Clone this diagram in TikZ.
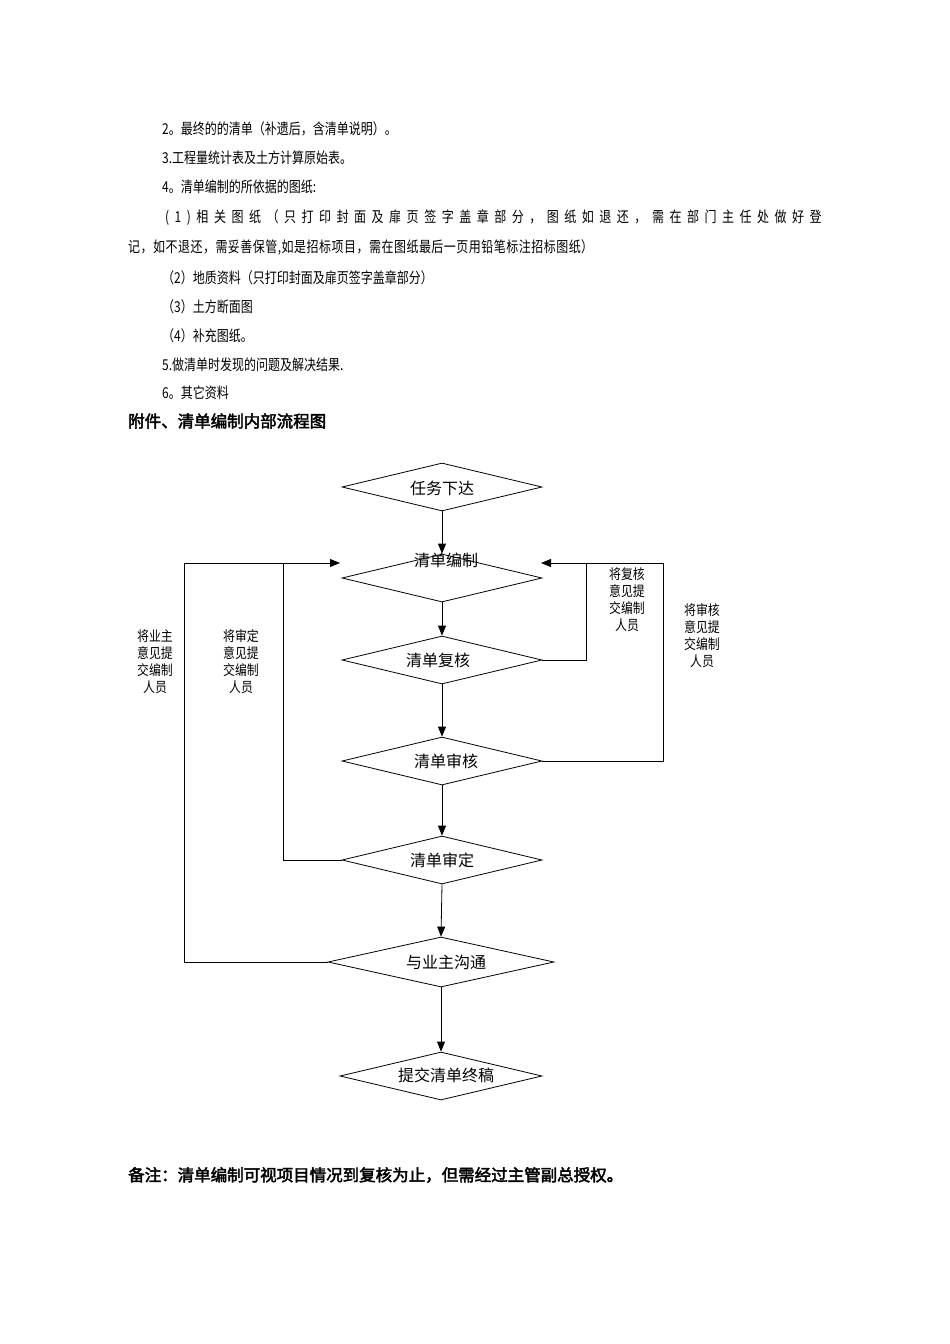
\documentclass[tikz,border=0pt]{standalone}
\usepackage{fontspec}
\setmainfont{Liberation Serif}
\newfontfamily\cjk[AutoFakeBold=2.5]{Noto Sans CJK SC}
\usetikzlibrary{shapes.geometric,arrows.meta}
\begin{document}
\begin{tikzpicture}[x=1pt,y=-1pt,
  body/.style={anchor=west,inner sep=0,font=\cjk\fontsize{15}{15}\selectfont,xscale=0.8},
  bodyb/.style={anchor=west,inner sep=0,font=\cjk\fontsize{16.5}{16.5}\selectfont\bfseries},
  dm/.style={draw,diamond,inner sep=0,minimum width=200pt,minimum height=48pt,shape aspect=4,line width=0.8pt},
  lbl/.style={font=\cjk\fontsize{16}{16}\selectfont,inner sep=0},
  side/.style={font=\cjk\fontsize{14}{17}\selectfont,align=center,inner sep=0,xscale=0.85},
  arr/.style={-{Triangle[length=10pt,width=8pt]},line width=0.8pt},
  ln/.style={line width=0.8pt}]
\useasboundingbox (0,0) rectangle (950,1344);
\node[body] (l1) at (162,129) {2。最终的的清单（补遗后，含清单说明）。};
\node[body] (l2) at (162,158) {3.工程量统计表及土方计算原始表。};
\node[body] (l3) at (162,187) {4。清单编制的所依据的图纸:};
\node[body] (l4) at (165,218) {\addfontfeature{LetterSpace=46}(1)相关图纸（只打印封面及扉页签字盖章部分，图纸如退还，需在部门主任处做好登};
\node[body] (l5) at (128,248) {\addfontfeature{LetterSpace=4}记，如不退还，需妥善保管,如是招标项目，需在图纸最后一页用铅笔标注招标图纸）};
\node[body] (l6) at (162,278) {（2）地质资料（只打印封面及扉页签字盖章部分）};
\node[body] (l7) at (162,307) {（3）土方断面图};
\node[body] (l8) at (162,336) {（4）补充图纸。};
\node[body] (l9) at (162,365) {5.做清单时发现的问题及解决结果.};
\node[body] (l10) at (162,393) {6。其它资料};
\node[bodyb] (h) at (128,421) {附件、清单编制内部流程图};
\node[bodyb] (f) at (128,1175) {备注：清单编制可视项目情况到复核为止，但需经过主管副总授权。};

\node[dm] (d1) at (442,487) {};
\node[dm] (d2) at (442,578) {};
\node[dm] (d3) at (442,660) {};
\node[dm] (d4) at (442,761) {};
\node[dm] (d5) at (442,860) {};
\node[dm,minimum width=226pt,minimum height=50pt] (d6) at (441,962) {};
\node[dm,minimum width=202pt] (d7) at (441,1076) {};
\node[lbl] (t1) at (442,488) {任务下达};
\node[lbl] (t2) at (446,560) {清单编制};
\node[lbl] (t3) at (438,660) {清单复核};
\node[lbl] (t4) at (446,761) {清单审核};
\node[lbl] (t5) at (442,860) {清单审定};
\node[lbl] (t6) at (446,962) {与业主沟通};
\node[lbl] (t7) at (446,1075) {提交清单终稿};

\draw[arr] (d1.south) -- (d2.north);
\draw[arr] (d2.south) -- (d3.north);
\draw[arr] (d3.south) -- (d4.north);
\draw[arr] (d4.south) -- (d5.north);
\draw[arr] (d5.south) -- (d6.north);
\draw[arr] (d6.south) -- (d7.north);

\coordinate (inR) at (541,563);
\coordinate (inL) at (340,563);
\draw[arr] (d3.east) -- (586,660) |- (inR);
\draw[ln] (d4.east) -- (663,761) |- (586,563);
\draw[arr] (d5.west) -- (283,860) |- (inL);
\draw[ln] (d6.west) -- (184,962) |- (283,563);

\node[side] (s1) at (627,600) {将复核\\意见提\\交编制\\人员};
\node[side] (s2) at (702,636) {将审核\\意见提\\交编制\\人员};
\node[side] (s3) at (241,662) {将审定\\意见提\\交编制\\人员};
\node[side] (s4) at (155,662) {将业主\\意见提\\交编制\\人员};
\end{tikzpicture}
\end{document}
